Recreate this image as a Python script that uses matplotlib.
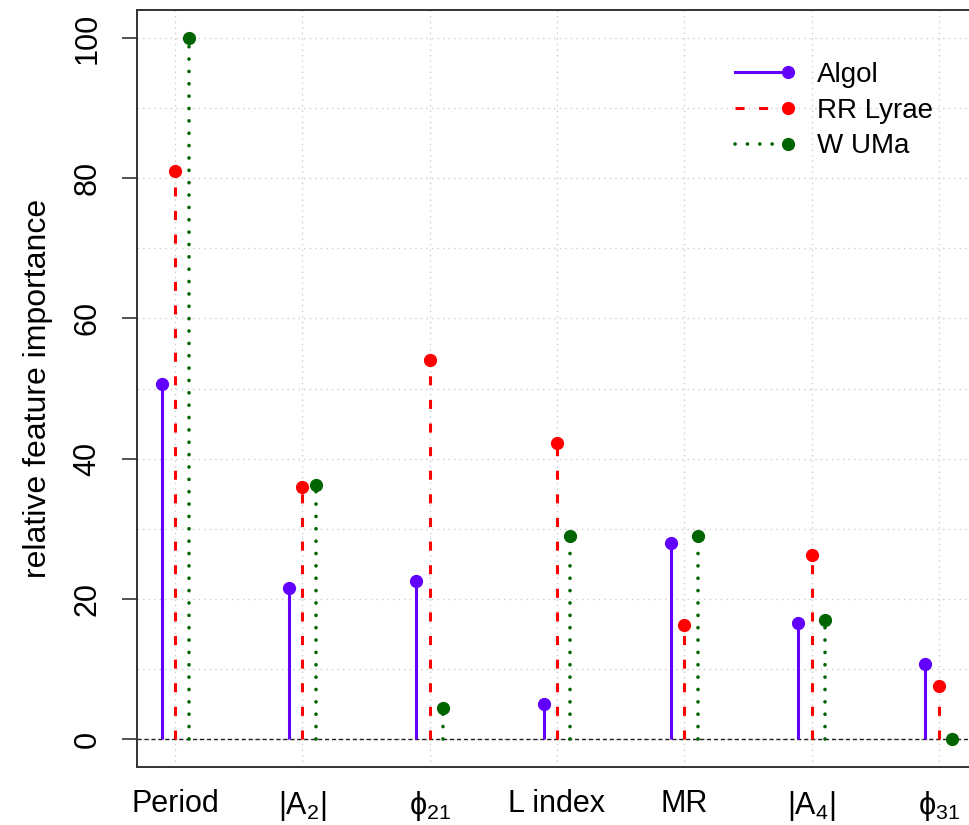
import matplotlib
matplotlib.use("Agg")
import matplotlib.pyplot as plt
from matplotlib.lines import Line2D
from matplotlib.legend_handler import HandlerLine2D
import numpy as np

plt.rcParams['font.family'] = ['Liberation Sans', 'DejaVu Sans']
plt.rcParams['mathtext.fontset'] = 'custom'
plt.rcParams['mathtext.rm'] = 'Liberation Sans'
plt.rcParams['mathtext.it'] = 'Liberation Sans'
plt.rcParams['lines.scale_dashes'] = False

# feature importances per class
features = ["Period", "|A$_2$|", "ϕ$_{21}$", "L index", "MR", "|A$_4$|", "ϕ$_{31}$"]
algol = [50.6, 21.5, 22.5, 5.0, 27.9, 16.6, 10.7]
rr_lyrae = [81.0, 36.0, 54.1, 42.2, 16.2, 26.3, 7.6]
w_uma = [100.0, 36.3, 4.4, 29.0, 29.0, 17.0, 0.0]

series = [
    ("Algol", algol, "#6200FF", "-", -0.105),
    ("RR Lyrae", rr_lyrae, "#FF0000", (0, (6.5, 10.5)), 0.0),
    ("W UMa", w_uma, "#006400", (0, (0.1, 8.8)), 0.105),
]


class MarkerAtEnd(HandlerLine2D):
    # legend line with a single marker on its right end
    def create_artists(self, *args, **kwargs):
        arts = super().create_artists(*args, **kwargs)
        for a in arts:
            n = len(a.get_xdata())
            a.set_markevery([n - 1])
        return arts


W, H = 969, 825
fig = plt.figure(figsize=(W / 100, H / 100), dpi=100)
ax = fig.add_axes([137 / W, 1 - 767 / H, (977 - 137) / W, (767 - 10) / H])

x = np.arange(len(features))

# grid
for yv in range(0, 101, 10):
    ax.axhline(yv, color="#cccccc", lw=1.0, ls=(0, (1, 3)), zorder=0)
for xv in x:
    ax.axvline(xv, color="#cccccc", lw=1.0, ls=(0, (1, 3)), zorder=0)
ax.axhline(0, color="#222222", lw=1.0, ls=(0, (3, 2)), zorder=1)

handles = []
for name, vals, col, ls, off in series:
    xs = x + off
    capstyle = "round" if name == "W UMa" else "butt"
    lw = 2.6 if name == "W UMa" else 2.2
    ax.vlines(xs, 0, vals, colors=col, linestyles=ls, lw=lw, zorder=2,
              capstyle=capstyle)
    ax.plot(xs, vals, "o", color=col, ms=8.5, zorder=3)
    h = Line2D([0, 1], [0, 0], color=col, ls=ls, lw=lw, marker="o", ms=8.5,
               dash_capstyle=capstyle)
    handles.append(h)

ax.set_xlim(-0.3, 6.3)
ax.set_ylim(-4, 104)
ax.set_xticks(x)
ax.set_xticklabels(features, fontsize=22)
ax.tick_params(axis="x", length=0, pad=16)
ax.set_yticks(range(0, 101, 20))
ax.set_yticklabels([str(v) for v in range(0, 101, 20)], fontsize=22,
                   rotation=90, va="center")
ax.tick_params(axis="y", length=11, width=1.2, color="#333333", pad=14)
ax.set_ylabel("relative feature importance", fontsize=23, labelpad=14)

for s in ["left", "top", "bottom"]:
    ax.spines[s].set_linewidth(1.4)
    ax.spines[s].set_color("#333333")
ax.spines["right"].set_visible(False)

ax.legend(handles, ["Algol", "RR Lyrae", "W UMa"], frameon=False,
          fontsize=20, numpoints=2, handlelength=2.5, handletextpad=0.75,
          labelspacing=0.35, loc="upper left",
          handler_map={Line2D: MarkerAtEnd()},
          bbox_to_anchor=(702 / W, 1 - 37 / H), bbox_transform=fig.transFigure)

fig.savefig("out.png", dpi=100)
